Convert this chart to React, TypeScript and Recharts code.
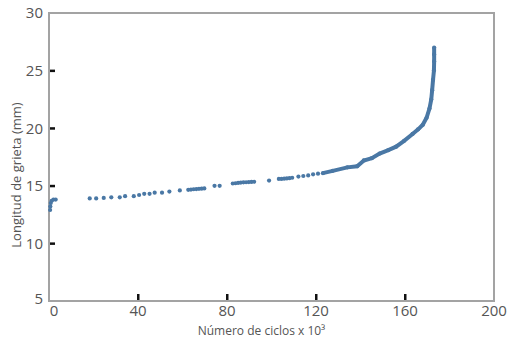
import React from 'react';
import { ScatterChart, Scatter, XAxis, YAxis, Label, ReferenceArea } from 'recharts';

// cycles (x 10^3) and crack length (mm)
const startCycles = [0.5, 0.6, 0.8, 1.2, 2.0, 3.0];
const startLength = [12.9, 13.2, 13.5, 13.7, 13.8, 13.8];

const midCycles = [
  18.3, 21.2, 24.6, 28.0, 31.8, 34.2, 38.1, 40.5, 42.8, 45.2, 47.5, 50.8, 54.1, 58.8,
  62.6, 63.8, 65.0, 66.2, 67.4, 68.6, 69.8, 74.4, 76.7,
  82.6, 83.8, 85.0, 86.2, 87.4, 88.6, 89.8, 91.0, 92.2, 98.9,
  103.3, 104.5, 105.7, 106.9, 108.1, 109.3, 112.1, 114.3, 116.5, 118.7, 120.9,
];
const midLength = [
  13.9, 13.9, 13.95, 14.0, 14.0, 14.1, 14.1, 14.2, 14.3, 14.3, 14.4, 14.4, 14.5, 14.6,
  14.65, 14.67, 14.7, 14.72, 14.74, 14.75, 14.77, 15.0, 15.0,
  15.2, 15.22, 15.25, 15.28, 15.3, 15.31, 15.32, 15.34, 15.35, 15.45,
  15.6, 15.6, 15.62, 15.64, 15.66, 15.7, 15.8, 15.85, 15.9, 16.0, 16.05,
];

const curveCycles = [
  123.1, 127.5, 134.1, 138.5, 141.5, 145.1, 148.6, 152.5, 156.0, 159.6, 163.4,
  165.9, 168.0, 169.7, 171.0, 171.8, 172.2, 172.6, 173.0, 173.1, 173.1, 173.1,
];
const curveLength = [
  16.1, 16.3, 16.6, 16.7, 17.2, 17.4, 17.8, 18.1, 18.4, 18.9, 19.5,
  19.9, 20.3, 20.9, 21.7, 22.5, 23.3, 24.2, 25.0, 25.8, 26.4, 27.0,
];

const xTicks = [0, 40, 80, 120, 160, 200];
const yTicks = [5, 10, 15, 20, 25, 30];
// inner tick marks (the ends are covered by the frame)
const xMarkCycles = [40, 80, 120, 160];
const xMarkLength = [5, 5, 5, 5];
const yMarkCycles = [0, 0, 0, 0];
const yMarkLength = [10, 15, 20, 25];

const toPoints = (xs: number[], ys: number[]) => xs.map((x, i) => ({ x, y: ys[i] }));

const DOT = '#4a78a5';
const FRAME = '#a3a3a3';
const FONT = 'Open Sans';

const Dot = (props: any) => <circle cx={props.cx} cy={props.cy} r={2.1} fill={DOT} />;
const XMark = (props: any) => <rect x={props.cx - 1} y={props.cy - 7} width={2.5} height={6} fill="#111" />;
const YMark = (props: any) => <rect x={props.cx + 1} y={props.cy - 1} width={5} height={2.5} fill="#111" />;

const XTick = (props: any) => {
  const { x, y, payload } = props;
  return (
    <text x={x + (payload.value === 0 ? 5 : 0)} y={y} dy="0.71em" textAnchor="middle" fontSize={15} fill="#555" fontFamily={FONT}>
      {payload.value}
    </text>
  );
};

const YTick = (props: any) => {
  const { x, y, payload } = props;
  return (
    <text x={x} y={payload.value === 5 ? y - 2 : y} dy="0.355em" textAnchor="end" fontSize={15} fill="#555" fontFamily={FONT}>
      {payload.value}
    </text>
  );
};

const YTitle = (props: any) => {
  const vb = props.viewBox;
  const cy = vb.y + vb.height / 2 + 18;
  return (
    <text
      x={16}
      y={cy}
      transform={`rotate(-90, 16, ${cy})`}
      textAnchor="middle"
      dominantBaseline="central"
      fontSize={13}
      fill="#555"
      fontFamily={FONT}
    >
      Longitud de grieta (mm)
    </text>
  );
};

const XTitle = (props: any) => {
  const vb = props.viewBox;
  return (
    <text x={vb.x + vb.width / 2 - 10} y={335} textAnchor="middle" fontSize={12} fill="#555" fontFamily={FONT}>
      Número de ciclos x 10³
    </text>
  );
};

const startPts = toPoints(startCycles, startLength);
const midPts = toPoints(midCycles, midLength);
const curvePts = toPoints(curveCycles, curveLength);
const xMarkPts = toPoints(xMarkCycles, xMarkLength);
const yMarkPts = toPoints(yMarkCycles, yMarkLength);

export default function App() {
  return (
    <div style={{ position: 'absolute', left: 0, top: 0, width: 516, height: 340, background: '#fff' }}>
      <ScatterChart width={516} height={340} margin={{ top: 13, right: 22, left: 0, bottom: 0 }}>
        <ReferenceArea x1={0} x2={200} y1={5} y2={30} fill="none" stroke={FRAME} strokeWidth={2} />
        <XAxis
          type="number"
          dataKey="x"
          domain={[0, 200]}
          ticks={xTicks}
          height={39}
          axisLine={{ stroke: FRAME, strokeWidth: 2 }}
          tickLine={false}
          tickSize={0}
          tickMargin={4}
          tick={<XTick />}
        >
          <Label content={<XTitle />} />
        </XAxis>
        <YAxis
          type="number"
          dataKey="y"
          domain={[5, 30]}
          ticks={yTicks}
          width={49}
          axisLine={{ stroke: FRAME, strokeWidth: 2 }}
          tickLine={false}
          tickSize={0}
          tickMargin={6}
          tick={<YTick />}
        >
          <Label content={<YTitle />} />
        </YAxis>
        <Scatter data={startPts} shape={<Dot />} isAnimationActive={false} />
        <Scatter data={midPts} shape={<Dot />} isAnimationActive={false} />
        <Scatter
          data={curvePts}
          shape={<Dot />}
          line={{ stroke: DOT, strokeWidth: 4 }}
          lineType="joint"
          isAnimationActive={false}
        />
        <Scatter data={xMarkPts} shape={<XMark />} isAnimationActive={false} />
        <Scatter data={yMarkPts} shape={<YMark />} isAnimationActive={false} />
      </ScatterChart>
    </div>
  );
}
